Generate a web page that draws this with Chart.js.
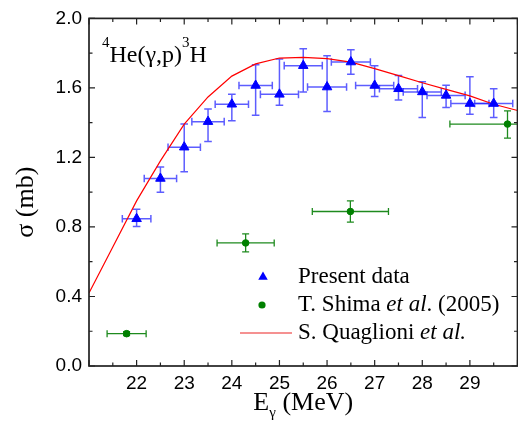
<!DOCTYPE html>
<html><head><meta charset="utf-8">
<script src="https://cdn.jsdelivr.net/npm/chart.js@4.4.1/dist/chart.umd.min.js"></script>
<style>
html,body{margin:0;padding:0;background:#fff;overflow:hidden;width:518px;height:441px}
#wrap{position:relative;width:524px;height:441px}
</style>
</head><body><div id="wrap"><canvas id="c" width="524" height="441"></canvas></div>
<script>
// ---- data ----
const energyPresent = [22, 22.5, 23, 23.5, 24, 24.5, 25, 25.5, 26, 26.5, 27, 27.5, 28, 28.5, 29, 29.5];
const sigmaPresent = [0.847, 1.079, 1.259, 1.406, 1.506, 1.614, 1.563, 1.728, 1.605, 1.749, 1.614, 1.595, 1.577, 1.557, 1.510, 1.510];
const sigmaPresentHigh = [0.902, 1.145, 1.392, 1.478, 1.563, 1.734, 1.766, 1.825, 1.785, 1.820, 1.728, 1.671, 1.635, 1.616, 1.664, 1.595];
const sigmaPresentLow = [0.803, 0.999, 1.117, 1.292, 1.411, 1.443, 1.500, 1.577, 1.464, 1.679, 1.550, 1.531, 1.430, 1.487, 1.449, 1.430];
const energyPresentErr = [0.30, 0.34, 0.34, 0.34, 0.35, 0.35, 0.40, 0.40, 0.41, 0.41, 0.40, 0.40, 0.40, 0.40, 0.40, 0.40];

const energyShima = [21.79, 24.29, 26.49, 29.79];
const sigmaShima = [0.186, 0.708, 0.889, 1.392];
const sigmaShimaHigh = [0.197, 0.760, 0.950, 1.468];
const sigmaShimaLow = [0.175, 0.657, 0.828, 1.311];
const energyShimaErr = [0.41, 0.60, 0.80, 1.21];

const energyTheory = [21, 21.5, 22, 22.5, 23, 23.5, 24, 24.5, 25, 25.5, 26, 26.5, 27, 27.5, 28, 28.5, 29, 29.5, 30];
const sigmaTheory = [0.42, 0.685, 0.95, 1.18, 1.392, 1.548, 1.668, 1.738, 1.772, 1.776, 1.768, 1.748, 1.711, 1.671, 1.630, 1.592, 1.554, 1.506, 1.470];

const xTickValues = [21, 22, 23, 24, 25, 26, 27, 28, 29, 30];
const xTickLabels = ['', '22', '23', '24', '25', '26', '27', '28', '29', ''];
const yTickValues = [0, 0.4, 0.8, 1.2, 1.6, 2.0];
const yTickLabels = ['0.0', '0.4', '0.8', '1.2', '1.6', '2.0'];
const xMinorValues = [21.5, 22.5, 23.5, 24.5, 25.5, 26.5, 27.5, 28.5, 29.5];
const yMinorValues = [0.2, 0.6, 1.0, 1.4, 1.8];

const legendLabels = ['Present data', 'T. Shima ', 'S. Quaglioni '];

// ---- drawing helpers ----
const SERIF = '"Liberation Serif", "Times New Roman", serif';
const SANS = '"Liberation Sans", Arial, sans-serif';

function drawErrorBars(chart, xs, ys, yHi, yLo, xErr, color, width, cap) {
  const ctx = chart.ctx, xs_ = chart.scales.x, ys_ = chart.scales.y;
  ctx.save();
  const a = chart.chartArea;
  ctx.beginPath(); ctx.rect(a.left, a.top, a.right - a.left, a.bottom - a.top); ctx.clip();
  ctx.strokeStyle = color; ctx.lineWidth = width;
  for (let i = 0; i < xs.length; i++) {
    const px = xs_.getPixelForValue(xs[i]);
    const py = ys_.getPixelForValue(ys[i]);
    const pyH = ys_.getPixelForValue(yHi[i]);
    const pyL = ys_.getPixelForValue(yLo[i]);
    const pxL = xs_.getPixelForValue(xs[i] - xErr[i]);
    const pxR = xs_.getPixelForValue(xs[i] + xErr[i]);
    ctx.beginPath();
    ctx.moveTo(px, pyH); ctx.lineTo(px, pyL);
    ctx.moveTo(px - cap, pyH); ctx.lineTo(px + cap, pyH);
    ctx.moveTo(px - cap, pyL); ctx.lineTo(px + cap, pyL);
    ctx.moveTo(pxL, py); ctx.lineTo(pxR, py);
    ctx.moveTo(pxL, py - cap); ctx.lineTo(pxL, py + cap);
    ctx.moveTo(pxR, py - cap); ctx.lineTo(pxR, py + cap);
    ctx.stroke();
  }
  ctx.restore();
}

function drawRuns(ctx, runs, x, y) {
  let cx = x;
  for (const r of runs) {
    ctx.font = r.font;
    ctx.fillText(r.text, cx, y + (r.dy || 0));
    cx += ctx.measureText(r.text).width;
  }
  return cx;
}
function runsWidth(ctx, runs) {
  let w = 0;
  for (const r of runs) { ctx.font = r.font; w += ctx.measureText(r.text).width; }
  return w;
}

const decorPlugin = {
  id: 'decor',
  beforeDatasetsDraw(chart) {
    drawErrorBars(chart, energyShima, sigmaShima, sigmaShimaHigh, sigmaShimaLow, energyShimaErr, '#1e8a1e', 1.3, 3.5);
    drawErrorBars(chart, energyPresent, sigmaPresent, sigmaPresentHigh, sigmaPresentLow, energyPresentErr, 'rgba(30,30,255,0.72)', 1.5, 3.8);
  },
  afterDraw(chart) {
    const ctx = chart.ctx, a = chart.chartArea, sx = chart.scales.x, sy = chart.scales.y;
    ctx.save();
    // frame
    ctx.strokeStyle = '#222'; ctx.lineWidth = 1.7;
    ctx.strokeRect(a.left, a.top, a.right - a.left, a.bottom - a.top);
    // inward ticks
    ctx.lineWidth = 1.2;
    ctx.beginPath();
    const tick = (vals, len) => {
      for (const v of vals) {
        const px = sx.getPixelForValue(v);
        ctx.moveTo(px, a.bottom); ctx.lineTo(px, a.bottom - len);
        ctx.moveTo(px, a.top); ctx.lineTo(px, a.top + len);
      }
    };
    const tickY = (vals, len) => {
      for (const v of vals) {
        const py = sy.getPixelForValue(v);
        ctx.moveTo(a.left, py); ctx.lineTo(a.left + len, py);
        ctx.moveTo(a.right, py); ctx.lineTo(a.right - len, py);
      }
    };
    tick(xTickValues, 6); tick(xMinorValues, 3.5);
    tickY(yTickValues, 6); tickY(yMinorValues, 3.5);
    ctx.stroke();

    ctx.fillStyle = '#000';
    ctx.textBaseline = 'alphabetic';
    ctx.textAlign = 'left';
    // annotation title
    drawRuns(ctx, [
      {text: '4', font: '15px ' + SERIF, dy: -15},
      {text: 'He(\u03B3,p)', font: '24px ' + SERIF},
      {text: '3', font: '15px ' + SERIF, dy: -15},
      {text: 'H', font: '24px ' + SERIF}
    ], 102, 62);

    // x axis title
    const xRuns = [
      {text: 'E', font: '26px ' + SERIF},
      {text: '\u03B3', font: '15px ' + SERIF, dy: 7},
      {text: ' (MeV)', font: '26px ' + SERIF}
    ];
    const xw = runsWidth(ctx, xRuns);
    drawRuns(ctx, xRuns, (a.left + a.right) / 2 - xw / 2, 410);

    // y axis title
    ctx.save();
    ctx.translate(33, (a.top + a.bottom) / 2 + 10);
    ctx.rotate(-Math.PI / 2);
    ctx.font = '26px ' + SERIF;
    ctx.textAlign = 'center';
    ctx.fillText('\u03C3 (mb)', 0, 0);
    ctx.restore();

    // legend
    const lx = 298;
    ctx.fillStyle = '#0000ff';
    ctx.beginPath();
    const r = 5.5, cx = 263, cy = 277;
    for (let k = 0; k < 3; k++) {
      const ang = k * 2 * Math.PI / 3;
      const px = cx + Math.sin(ang) * r, py = cy - Math.cos(ang) * r;
      if (k === 0) ctx.moveTo(px, py); else ctx.lineTo(px, py);
    }
    ctx.closePath(); ctx.fill();
    ctx.fillStyle = '#008000';
    ctx.beginPath(); ctx.arc(262, 305, 3.6, 0, 2 * Math.PI); ctx.fill();
    ctx.strokeStyle = '#f26c6c'; ctx.lineWidth = 1.6;
    ctx.beginPath(); ctx.moveTo(240, 333); ctx.lineTo(292, 333); ctx.stroke();

    ctx.fillStyle = '#000';
    drawRuns(ctx, [{text: legendLabels[0], font: '23px ' + SERIF}], lx, 283);
    drawRuns(ctx, [
      {text: legendLabels[1], font: '23px ' + SERIF},
      {text: 'et al', font: 'italic 23px ' + SERIF},
      {text: '. (2005)', font: '23px ' + SERIF}
    ], lx, 311);
    drawRuns(ctx, [
      {text: legendLabels[2], font: '23px ' + SERIF},
      {text: 'et al.', font: 'italic 23px ' + SERIF}
    ], lx, 339);
    ctx.restore();
  }
};

new Chart(document.getElementById('c'), {
  type: 'scatter',
  data: {
    datasets: [
      {
        label: 'Present data',
        data: energyPresent.map((x, i) => ({x, y: sigmaPresent[i]})),
        pointStyle: 'triangle', pointRadius: 5.5, pointBorderWidth: 1,
        backgroundColor: '#0000ff', borderColor: '#0000ff', order: 1
      },
      {
        label: 'T. Shima et al. (2005)',
        data: energyShima.map((x, i) => ({x, y: sigmaShima[i]})),
        pointStyle: 'circle', pointRadius: 3.3, pointBorderWidth: 1,
        backgroundColor: '#008000', borderColor: '#008000', order: 2
      },
      {
        label: 'S. Quaglioni et al.',
        data: energyTheory.map((x, i) => ({x, y: sigmaTheory[i]})),
        showLine: true, pointRadius: 0, borderColor: '#ff0000', borderWidth: 1.2,
        backgroundColor: '#ff0000', tension: 0, order: 3
      }
    ]
  },
  options: {
    responsive: false, animation: false, devicePixelRatio: 1,
    layout: {padding: {left: 0, top: 15, right: 3, bottom: 0}},
    plugins: {legend: {display: false}, tooltip: {enabled: false}, title: {display: false}},
    scales: {
      x: {
        type: 'linear', min: 21, max: 30,
        afterBuildTicks: s => { s.ticks = xTickValues.map(v => ({value: v})); },
        afterFit: s => { s.height = 75; },
        grid: {display: false, drawTicks: false, tickLength: 0},
        border: {display: false},
        ticks: {
          autoSkip: false, maxRotation: 0, padding: 6, color: '#000',
          font: {family: SANS, size: 19},
          callback: (v, i) => xTickLabels[xTickValues.indexOf(v)] ?? ''
        }
      },
      y: {
        type: 'linear', min: 0, max: 2,
        afterBuildTicks: s => { s.ticks = yTickValues.map(v => ({value: v})); },
        afterFit: s => { s.width = 89; },
        grid: {display: false, drawTicks: false, tickLength: 0},
        border: {display: false},
        ticks: {
          padding: 7, color: '#000',
          font: {family: SANS, size: 19},
          callback: (v) => { const i = yTickValues.findIndex(t => Math.abs(t - v) < 1e-9); return i >= 0 ? yTickLabels[i] : ''; }
        }
      }
    }
  },
  plugins: [decorPlugin]
});
</script>
</body></html>
